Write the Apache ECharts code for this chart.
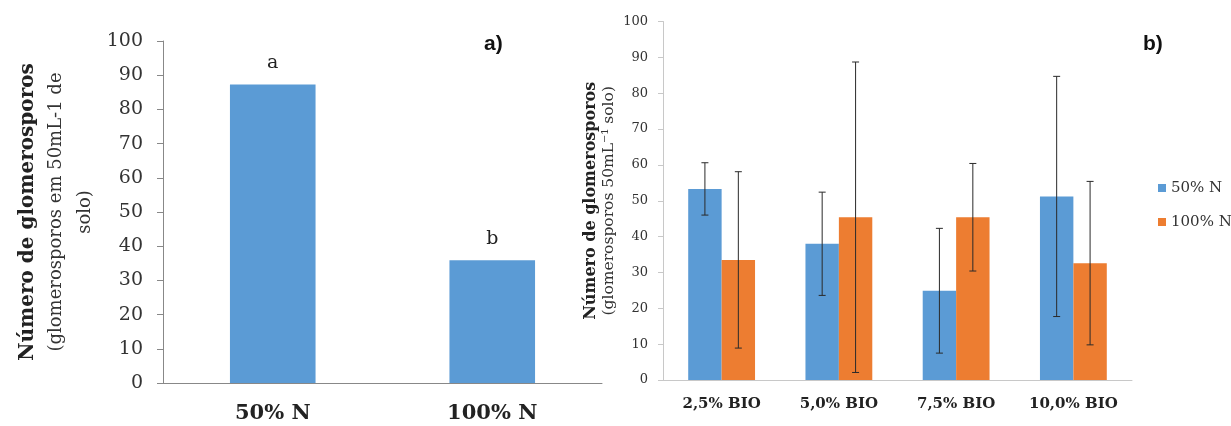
<!DOCTYPE html>
<html><head><meta charset="utf-8">
<script src="https://cdn.jsdelivr.net/npm/echarts@6/dist/echarts.min.js"></script>
<style>html,body{margin:0;padding:0;background:#fff}#c{width:1231px;height:426px}</style>
</head><body><div id="c"></div>
<script>
const leftCats = ['50% N', '100% N'];
const leftValues = [87.3, 35.9];
const leftLetters = ['a', 'b'];

const rightCats = ['2,5% BIO', '5,0% BIO', '7,5% BIO', '10,0% BIO'];
const n50 = [53.3, 38.0, 24.9, 51.2];
const n50Err = [7.3, 14.4, 17.4, 33.5];
const n100 = [33.5, 45.4, 45.4, 32.6];
const n100Err = [24.6, 43.3, 15.0, 22.8];
const seriesNames = ['50% N', '100% N'];

const yMin = 0, yMax = 100, yStep = 10;

const BLUE = '#5B9BD5', ORANGE = '#ED7D31';
const SERIF = '"DejaVu Serif", serif';
const BAR_FRAC = 0.285;

function errRender(side) {
  return function (params, api) {
    const x = api.value(0);
    const lo = api.coord([x, api.value(1)]);
    const hi = api.coord([x, api.value(2)]);
    const band = api.size([1, 0])[0];
    const cx = lo[0] + side * band * BAR_FRAC / 2;
    const cap = 3.5;
    const st = { stroke: '#2a2a2a', lineWidth: 1 };
    return {
      type: 'group',
      children: [
        { type: 'line', shape: { x1: cx, y1: lo[1], x2: cx, y2: hi[1] }, style: st },
        { type: 'line', shape: { x1: cx - cap, y1: lo[1], x2: cx + cap, y2: lo[1] }, style: st },
        { type: 'line', shape: { x1: cx - cap, y1: hi[1], x2: cx + cap, y2: hi[1] }, style: st }
      ]
    };
  };
}

const chart = echarts.init(document.getElementById('c'), null, { renderer: 'canvas' });
chart.setOption({
  animation: false,
  backgroundColor: '#fff',
  grid: [
    { left: 163, top: 41, width: 439, height: 342 },
    { left: 663, top: 21.5, width: 469, height: 358.5 }
  ],
  xAxis: [
    { type: 'category', gridIndex: 0, data: leftCats,
      axisLine: { lineStyle: { color: '#888', width: 1 } },
      axisTick: { show: false },
      axisLabel: { color: '#222', fontFamily: SERIF, fontWeight: 'bold', fontSize: 21, margin: 20 } },
    { type: 'category', gridIndex: 1, data: rightCats,
      axisLine: { lineStyle: { color: '#c8c8c8', width: 1 } },
      axisTick: { show: false },
      axisLabel: { color: '#222', fontFamily: SERIF, fontWeight: 'bold', fontSize: 15, margin: 17 } }
  ],
  yAxis: [
    { type: 'value', gridIndex: 0, min: yMin, max: yMax, interval: yStep,
      splitLine: { show: false },
      axisLine: { show: true, lineStyle: { color: '#888' } },
      axisTick: { show: true, length: 6, lineStyle: { color: '#888' } },
      axisLabel: { color: '#333', fontFamily: SERIF, fontSize: 19, margin: 20 },
      name: '{b|Número de glomerosporos}\n{n|(glomerosporos em 50mL-1 de}\n{n|solo)}',
      nameLocation: 'middle', nameRotate: 90, nameGap: 63,
      nameTextStyle: {
        color: '#222', align: 'center', lineHeight: 29,
        rich: {
          b: { fontFamily: SERIF, fontWeight: 'bold', fontSize: 20, lineHeight: 29, color: '#222' },
          n: { fontFamily: SERIF, fontSize: 18, lineHeight: 29, color: '#333' }
        }
      } },
    { type: 'value', gridIndex: 1, min: yMin, max: yMax, interval: yStep,
      splitLine: { show: false },
      axisLine: { show: true, lineStyle: { color: '#c8c8c8' } },
      axisTick: { show: true, length: 5, lineStyle: { color: '#c8c8c8' } },
      axisLabel: { color: '#333', fontFamily: SERIF, fontSize: 13, margin: 15 },
      name: '{b|Número de glomerosporos}\n{n|(glomerosporos 50mL⁻¹ solo)}',
      nameLocation: 'middle', nameRotate: 90, nameGap: 45,
      nameTextStyle: {
        color: '#222', align: 'center', lineHeight: 18,
        rich: {
          b: { fontFamily: SERIF, fontWeight: 'bold', fontSize: 16, lineHeight: 18, color: '#222' },
          n: { fontFamily: SERIF, fontSize: 15.5, lineHeight: 18, color: '#333' }
        }
      } }
  ],
  legend: {
    orient: 'vertical', left: 1153, top: 175,
    itemWidth: 8, itemHeight: 8, itemGap: 18,
    icon: 'rect',
    data: seriesNames,
    textStyle: { fontFamily: SERIF, fontSize: 15, color: '#333', lineHeight: 16 }
  },
  graphic: [
    { type: 'text', left: 484, top: 34, style: { text: 'a)', font: 'bold 21px "Liberation Sans", Arial, sans-serif', fill: '#111' } },
    { type: 'text', left: 1143, top: 34, style: { text: 'b)', font: 'bold 21px "Liberation Sans", Arial, sans-serif', fill: '#111' } }
  ],
  series: [
    { type: 'bar', xAxisIndex: 0, yAxisIndex: 0, data: leftValues, barCategoryGap: '61%',
      itemStyle: { color: BLUE },
      label: { show: true, position: 'top', distance: 12, color: '#222', fontFamily: SERIF, fontSize: 19,
        formatter: p => leftLetters[p.dataIndex] } },
    { name: seriesNames[0], type: 'bar', xAxisIndex: 1, yAxisIndex: 1, data: n50,
      barGap: '0%', barCategoryGap: '43%', itemStyle: { color: BLUE } },
    { name: seriesNames[1], type: 'bar', xAxisIndex: 1, yAxisIndex: 1, data: n100,
      barGap: '0%', barCategoryGap: '43%', itemStyle: { color: ORANGE } },
    { type: 'custom', xAxisIndex: 1, yAxisIndex: 1, z: 10, renderItem: errRender(-1),
      encode: { x: 0, y: [1, 2] },
      data: n50.map((v, i) => [i, v - n50Err[i], v + n50Err[i]]) },
    { type: 'custom', xAxisIndex: 1, yAxisIndex: 1, z: 10, renderItem: errRender(1),
      encode: { x: 0, y: [1, 2] },
      data: n100.map((v, i) => [i, v - n100Err[i], v + n100Err[i]]) }
  ]
});
</script>
</body></html>
